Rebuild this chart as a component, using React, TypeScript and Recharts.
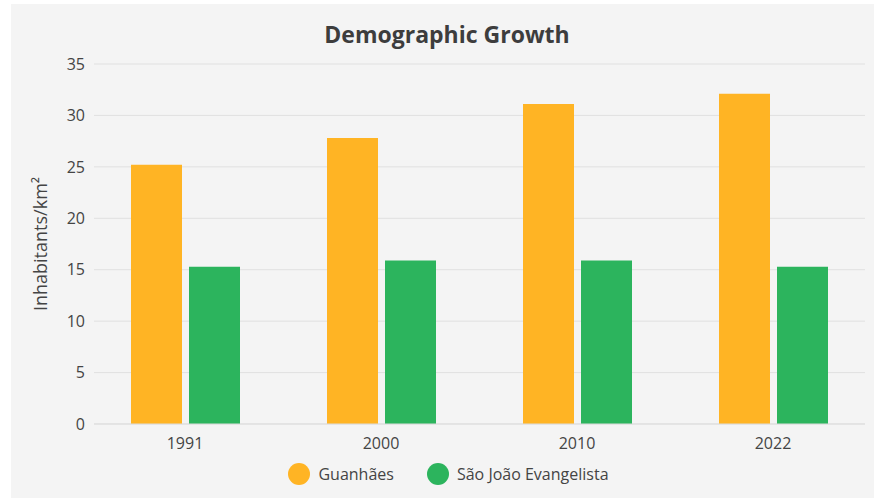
import { Bar, BarChart, CartesianGrid, Legend, XAxis, YAxis } from "recharts";

const years = ["1991", "2000", "2010", "2022"];
const guanhaes = [25.2, 27.8, 31.1, 32.1];
const saoJoao = [15.3, 15.9, 15.9, 15.3];
const yTicks = [0, 5, 10, 15, 20, 25, 30, 35];

const ORANGE = "#FFB424";
const GREEN = "#2CB45D";
const FONT = "'Open Sans', sans-serif";

const data = years.map((year, i) => ({
  year,
  guanhaes: guanhaes[i],
  saoJoao: saoJoao[i],
}));

const legendItems = [
  { name: "Guanhães", color: ORANGE },
  { name: "São João Evangelista", color: GREEN },
];

function ChartLegend() {
  return (
    <div style={{ display: "flex", justifyContent: "center", alignItems: "center", height: 34, paddingLeft: 54,
      position: "relative", top: 3 }}>
      {legendItems.map((it) => (
        <div key={it.name} style={{ display: "flex", alignItems: "center", marginRight: 33 }}>
          <span style={{ width: 22, height: 22, borderRadius: "50%", background: it.color, display: "inline-block" }} />
          <span style={{ marginLeft: 8, fontFamily: FONT, fontSize: 16, color: "#444" }}>{it.name}</span>
        </div>
      ))}
    </div>
  );
}

function YLabel(props: any) {
  const vb = props.viewBox;
  const cx = 29;
  const cy = vb.y + vb.height / 2;
  return (
    <text x={cx} y={cy} transform={`rotate(-90, ${cx}, ${cy})`} textAnchor="middle" dominantBaseline="central"
      fontFamily={FONT} fontSize={18} fill="#444">
      Inhabitants/km²
    </text>
  );
}

export default function App() {
  return (
    <div style={{ position: "absolute", left: 11, top: 4, width: 863, height: 494, background: "#f4f4f4" }}>
      <div style={{ position: "absolute", left: 0, top: 14, width: 872, textAlign: "center", fontFamily: FONT,
        fontWeight: 700, fontSize: 23, color: "#3d3d3d", lineHeight: "32px" }}>
        Demographic Growth
      </div>
      <BarChart width={863} height={494} data={data} margin={{ top: 60, right: 9, bottom: 10, left: 0 }}
        barGap={7} style={{ position: "absolute", left: 0, top: 0 }}>
        <CartesianGrid vertical={false} stroke="#e0e0e0" />
        <XAxis dataKey="year" tickLine={false} axisLine={{ stroke: "#dddddd" }} height={30} tickMargin={8}
          padding={{ left: -7, right: -6 }} tick={{ fontFamily: FONT, fontSize: 16, fill: "#444" }} />
        <YAxis width={83} domain={[0, 35]} ticks={yTicks} axisLine={false} tickLine={false} tickMargin={3}
          tick={{ fontFamily: FONT, fontSize: 16, fill: "#444" }} label={<YLabel />} />
        <Legend verticalAlign="bottom" content={() => <ChartLegend />} />
        <Bar dataKey="guanhaes" name="Guanhães" fill={ORANGE} barSize={51} isAnimationActive={false} />
        <Bar dataKey="saoJoao" name="São João Evangelista" fill={GREEN} barSize={51} isAnimationActive={false} />
      </BarChart>
    </div>
  );
}
